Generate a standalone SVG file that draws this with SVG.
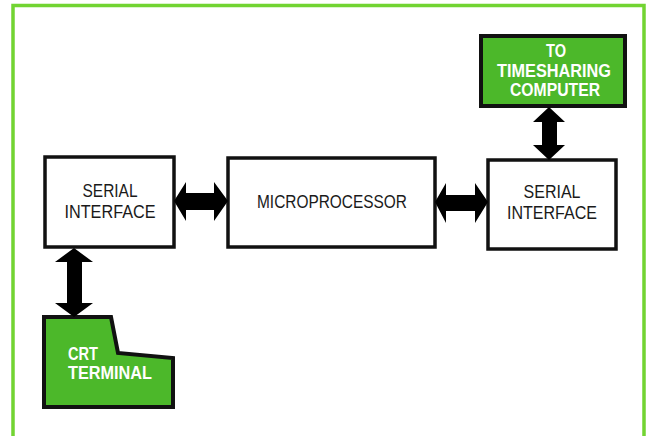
<svg xmlns="http://www.w3.org/2000/svg" width="651" height="436" viewBox="0 0 651 436">
<style>
.frame{fill:none;stroke:#72d432;stroke-width:3.5}
.box{fill:#fff;stroke:#111;stroke-width:3.5}
.gbox{fill:#4cb82a;stroke:#111;stroke-width:4}
.t{font-family:"Liberation Sans",Arial,sans-serif;font-size:17.5px;fill:#1a1a1a;text-anchor:middle}
.w{font-family:"Liberation Sans",Arial,sans-serif;font-size:18.5px;font-weight:bold;fill:#fff}
.arr{fill:#000}
</style>
<rect width="651" height="436" fill="#fff"/>
<path class="frame" d="M13,436 V5.5 H644 V436"/>
<g id="serial-left">
<rect class="box" x="45" y="157" width="129" height="90"/>
<text class="t" x="110" y="197" textLength="55" lengthAdjust="spacingAndGlyphs">SERIAL</text>
<text class="t" x="110" y="218" textLength="91" lengthAdjust="spacingAndGlyphs">INTERFACE</text>
</g>
<g id="microprocessor">
<rect class="box" x="228" y="158" width="207" height="89"/>
<text class="t" x="332" y="208" textLength="150" lengthAdjust="spacingAndGlyphs">MICROPROCESSOR</text>
</g>
<g id="serial-right">
<rect class="box" x="488" y="160" width="128" height="89"/>
<text class="t" x="552" y="198" textLength="57" lengthAdjust="spacingAndGlyphs">SERIAL</text>
<text class="t" x="552" y="219" textLength="90" lengthAdjust="spacingAndGlyphs">INTERFACE</text>
</g>
<g id="timesharing">
<rect class="gbox" x="481" y="36" width="144" height="70"/>
<text class="w" x="556" y="57" text-anchor="middle" textLength="20" lengthAdjust="spacingAndGlyphs">TO</text>
<text class="w" x="554" y="77" text-anchor="middle" textLength="114" lengthAdjust="spacingAndGlyphs">TIMESHARING</text>
<text class="w" x="555" y="96" text-anchor="middle" textLength="90" lengthAdjust="spacingAndGlyphs">COMPUTER</text>
</g>
<g id="crt-terminal">
<path class="gbox" d="M44,317 H111 L118,353 L173,358 V407 H44 Z"/>
<text class="w" x="68" y="360" textLength="30" lengthAdjust="spacingAndGlyphs">CRT</text>
<text class="w" x="68" y="379" textLength="84" lengthAdjust="spacingAndGlyphs">TERMINAL</text>
</g>
<g id="connectors">
<polygon class="arr" points="174,201 186,182 186,193 214,193 214,182 228,201 214,221 214,210 186,210 186,221"/>
<polygon class="arr" points="435,202 446,183 446,195 475,195 475,183 488,202 475,223 475,211 446,211 446,223"/>
<polygon class="arr" points="549,107 565,122 557,122 557,145 565,145 549,160 533,145 542,145 542,122 533,122"/>
<polygon class="arr" points="74,248 93,262 82,262 82,303 93,303 74,317 55,303 67,303 67,262 55,262"/>
</g>
</svg>
